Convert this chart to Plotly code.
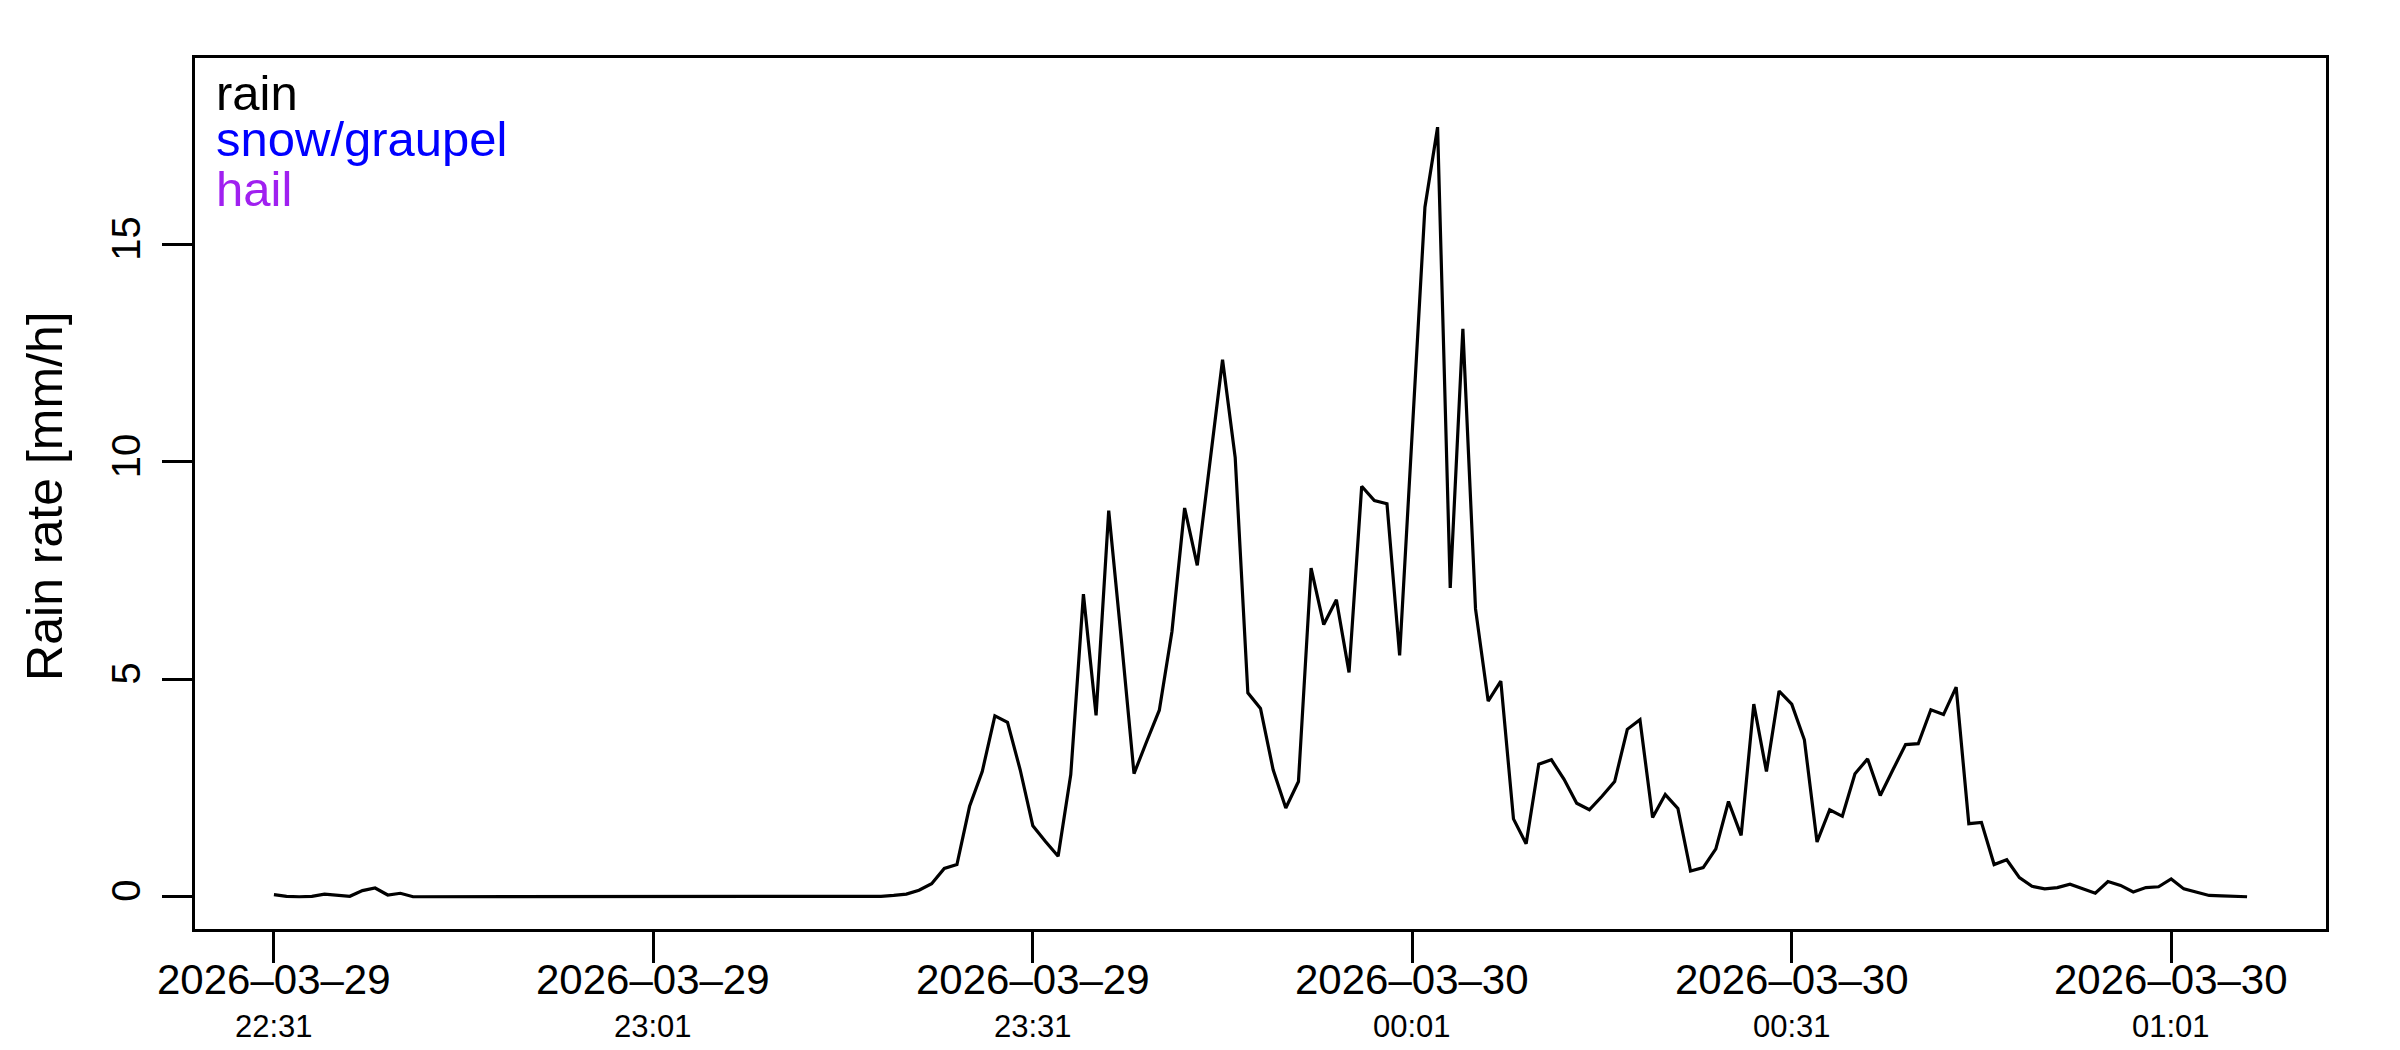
import pandas as pd
import plotly.graph_objects as go

# ---- data ----
start_time = "2026-03-29 22:31:00"
n_minutes = 157
rain_rate = [
    0.05, 0.01, 0.0, 0.01, 0.06, 0.03, 0.01, 0.14, 0.2, 0.04, 0.08,
    0.0, 0.0, 0.0, 0.0, 0.0, 0.0, 0.0, 0.0, 0.0, 0.0,
    0.0, 0.0, 0.0, 0.0, 0.0, 0.0, 0.0, 0.0, 0.0, 0.0,
    0.0, 0.0, 0.0, 0.0, 0.0, 0.0, 0.0, 0.0, 0.0, 0.0,
    0.0, 0.0, 0.0, 0.0, 0.0, 0.0, 0.0,
    0.01, 0.03, 0.06, 0.15, 0.3, 0.65, 0.74, 2.08, 2.88, 4.16,
    4.01, 2.92, 1.63, 1.27, 0.93, 2.81, 6.96, 4.17, 8.88, 5.91,
    2.83, 3.57, 4.29, 6.1, 8.94, 7.62, 10.0, 12.35, 10.1, 4.69,
    4.33, 2.92, 2.04, 2.65, 7.56, 6.26, 6.83, 5.16, 9.44, 9.11,
    9.04, 5.55, 10.7, 15.86, 17.7, 7.1, 13.06, 6.62, 4.5, 4.96,
    1.79, 1.22, 3.05, 3.15, 2.7, 2.15, 2.0, 2.31, 2.65, 3.85,
    4.07, 1.82, 2.35, 2.03, 0.59, 0.67, 1.1, 2.19, 1.41, 4.43,
    2.88, 4.73, 4.43, 3.61, 1.26, 2.0, 1.85, 2.83, 3.17, 2.33,
    2.92, 3.5, 3.52, 4.3, 4.19, 4.82, 1.68, 1.71, 0.74, 0.85,
    0.44, 0.24, 0.18, 0.21, 0.29, 0.18, 0.08, 0.35, 0.26, 0.11,
    0.21, 0.23, 0.41, 0.18, 0.1, 0.03, 0.02, 0.01, 0.0,
]
x_tick_times = ["2026-03-29 22:31", "2026-03-29 23:01", "2026-03-29 23:31",
                "2026-03-30 00:01", "2026-03-30 00:31", "2026-03-30 01:01"]
x_tick_dates = ["2026–03–29", "2026–03–29", "2026–03–29",
                "2026–03–30", "2026–03–30", "2026–03–30"]
x_tick_clock = ["22:31", "23:01", "23:31", "00:01", "00:31", "01:01"]
y_ticks = [0, 5, 10, 15]
legend_labels = ["rain", "snow/graupel", "hail"]
legend_colors = ["#000000", "#0000FF", "#A020F0"]

times = pd.date_range(start_time, periods=n_minutes, freq="min")

FONT = "Liberation Sans, Arial, Helvetica, sans-serif"

fig = go.Figure()
fig.add_trace(go.Scatter(x=times, y=rain_rate, mode="lines",
                         line=dict(color="black", width=3.2),
                         showlegend=False, hoverinfo="skip"))

t0 = times[0]
t1 = times[-1]
span = t1 - t0
xr = [t0 - 0.04 * span, t1 + 0.04 * span]

# page body has a default 8px margin; size the figure to compensate
fig.update_layout(
    width=2392, height=1042,
    margin=dict(l=187, r=74, t=50, b=121, pad=0),
    paper_bgcolor="white", plot_bgcolor="white",
    font=dict(family=FONT, color="black", size=40),
    showlegend=False,
    xaxis=dict(range=xr, showgrid=False, zeroline=False,
               showline=True, mirror=True, linecolor="black", linewidth=3,
               ticks="outside", ticklen=31, tickwidth=3, tickcolor="black",
               tickvals=pd.to_datetime(x_tick_times), showticklabels=False),
    yaxis=dict(range=[-0.742, 19.29], showgrid=False, zeroline=False,
               showline=True, mirror=True, linecolor="black", linewidth=3,
               ticks="outside", ticklen=30, tickwidth=3, tickcolor="black",
               tickvals=y_ticks, ticktext=[str(v) for v in y_ticks],
               tickangle=-90, tickfont=dict(size=40), ticklabelstandoff=6),
)

# two-line date/time tick labels
for tt, d, c in zip(x_tick_times, x_tick_dates, x_tick_clock):
    fig.add_annotation(x=pd.to_datetime(tt), y=-0.0585, xref="x", yref="paper",
                       text=d, showarrow=False, xanchor="center", yanchor="middle",
                       font=dict(size=42, family=FONT, color="black"))
    fig.add_annotation(x=pd.to_datetime(tt), y=-0.1125, xref="x", yref="paper",
                       text=c, showarrow=False, xanchor="center", yanchor="middle",
                       font=dict(size=31, family=FONT, color="black"))

# y-axis title
fig.add_annotation(x=-0.0705, y=0.497, xref="paper", yref="paper",
                   text="Rain rate [mm/h]", textangle=-90, showarrow=False,
                   xanchor="center", yanchor="middle",
                   font=dict(size=50, family=FONT, color="black"))

# legend-like text labels
legend_y = [0.960, 0.907, 0.850]
for lab, col, ly in zip(legend_labels, legend_colors, legend_y):
    fig.add_annotation(x=0.0088, y=ly, xref="paper", yref="paper",
                       text=lab, showarrow=False, xanchor="left", yanchor="middle",
                       font=dict(size=49, family=FONT, color=col))

fig.write_html("out.html")
